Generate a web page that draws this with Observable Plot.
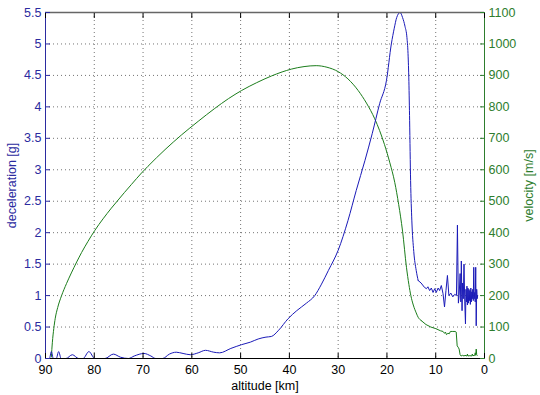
<!DOCTYPE html>
<html><head><meta charset="utf-8">
<script src="https://cdn.jsdelivr.net/npm/d3@7"></script>
<script src="https://cdn.jsdelivr.net/npm/@observablehq/plot@0.6"></script>
<style>
html,body{margin:0;padding:0;background:#fff;}
#chart svg{display:block;}
</style></head><body><div id="chart"></div>
<script>
// deceleration [g] vs altitude [km]
const decelAlt = [89.8,89.2,88.8,88.4,87.8,87.3,86.8,85.8,84.5,83.2,82.3,81.1,79.9,77.8,76.1,74.6,73.0,71.8,69.8,68.4,67.4,66.0,64.6,63.2,61.8,60.3,58.7,57.2,55.5,54.3,52.0,49.8,48.0,46.4,44.8,43.7,42.2,40.3,38.5,36.5,34.8,33.5,32.0,30.0,28.0,26.3,24.5,23.0,21.5,20.1,19.1,18.5,18.0,17.3,16.8,16.3,15.9,15.68,15.5,15.35,15.15,14.9,14.5,14.0,13.6,
  13.0,12.3,11.9,11.6,11.25,10.9,10.55,10.2,9.9,9.5,9.2,8.85,8.5,8.2,7.9,7.6,7.3,6.9,6.5,6.1,5.75,5.55,5.35,5.2,5.0,4.85,4.75,4.6,4.5,4.35,4.2,4.05,3.9,3.8,3.7,3.6,3.5,3.4,3.3,3.2,3.1,3.0,2.9,2.8,2.7,2.6,2.5,2.4,2.3,2.2,2.1,2.0,1.9,1.8,1.7,1.6,1.5,1.4];
const decelG = [0,0,0.11,0,0,0.11,0,0,0.06,0,0,0.11,0,0,0.07,0.02,0,0.04,0.08,0.04,0,0,0.07,0.1,0.08,0.06,0.09,0.13,0.1,0.09,0.16,0.22,0.26,0.31,0.34,0.35,0.45,0.63,0.76,0.88,1.0,1.17,1.4,1.72,2.19,2.67,3.15,3.58,4.05,4.42,5.0,5.25,5.42,5.5,5.42,5.28,5.1,4.85,4.4,3.78,2.83,2.2,1.7,1.4,1.24,
  1.2,1.13,1.11,1.14,1.08,1.12,1.05,1.11,1.05,1.12,1.08,1.16,1.03,0.82,1.08,1.32,1.0,1.04,0.98,1.02,1.0,2.12,0.88,1.0,1.35,0.9,1.55,0.76,1.2,0.95,1.5,0.9,0.55,1.1,0.9,1.15,0.85,1.12,0.88,1.1,0.92,1.08,0.86,1.12,0.9,1.06,0.95,1.1,0.92,1.45,0.95,1.05,0.9,1.45,0.52,1.1,0.95,1.0];

// velocity [m/s] vs altitude [km]
const velAlt = [88.8,88.6,88.3,88.0,87.5,86.7,85.7,84.7,83.6,82.6,81.3,79.9,78.2,76.5,75.1,73.8,72.4,70.3,69.0,65.5,62.1,58.7,55.3,52.5,49.8,46.7,43.7,41.5,39.6,37.0,34.5,32.3,30.0,28.0,25.9,24.2,22.5,20.5,19.4,18.4,17.6,16.8,16.0,15.5,15.1,14.6,14.0,13.6,13.0,
  12.0,11.0,10.0,9.0,8.5,8.2,8.0,7.8,7.5,7.2,7.0,6.5,6.0,5.8,5.6,5.4,5.2,5.0,4.8,4.5,4.2,4.0,3.6,3.5,3.4,3.0,2.6,2.5,2.4,2.0,1.9,1.8,1.7,1.6,1.5];
const velMS = [5,50,95,128,162,200,238,272,307,337,372,407,444,478,504,528,553,590,611,664,711,754,795,826,852,877,898,911,920,928,931,926,912,889,852,812,762,680,622,560,490,405,290,235,200,170,145,131,121,
  108,100,95,88,86,80,84,76,80,79,86,86,86,84,40,36,30,12,8,10,8,10,8,14,8,9,8,14,9,10,18,10,30,12,10];

const altTicks = [90,80,70,60,50,40,30,20,10,0];
const gTicks = [0,0.5,1,1.5,2,2.5,3,3.5,4,4.5,5,5.5];
const vTicks = [0,100,200,300,400,500,600,700,800,900,1000,1100];
const V_PER_G = 200; // right axis 0–1100 m/s aligned with left axis 0–5.5 g

const decel = decelAlt.map((a, i) => ({alt: a, g: decelG[i]}));
const vel = velAlt.map((a, i) => ({alt: a, v: velMS[i]}));

const BLUE = "#1a1ab8", BLUE_T = "#2b2ba0", GREEN = "#1b7d1b", GREEN_T = "#2e7d2e";
const FONT = "'Liberation Sans', Arial, Helvetica, sans-serif";

const chart = Plot.plot({
  width: 540, height: 395,
  marginLeft: 45, marginRight: 56, marginTop: 12, marginBottom: 37,
  style: {fontFamily: FONT, fontSize: "12.5px", background: "#fff", overflow: "visible"},
  x: {domain: [90, 0]},
  y: {domain: [0, 5.5]},
  marks: [
    Plot.gridX(altTicks, {stroke: "#000", strokeOpacity: 0.55, strokeDasharray: "1,3"}),
    Plot.gridY(gTicks, {stroke: "#000", strokeOpacity: 0.55, strokeDasharray: "1,3"}),
    Plot.line(vel, {filter: d => d.alt >= 13, x: "alt", y: d => d.v / V_PER_G, stroke: GREEN, strokeWidth: 1, curve: "monotone-x"}),
    Plot.line(vel, {filter: d => d.alt <= 13, x: "alt", y: d => d.v / V_PER_G, stroke: GREEN, strokeWidth: 1}),
    Plot.line(decel, {filter: d => d.alt >= 13.6, x: "alt", y: "g", stroke: BLUE, strokeWidth: 1, curve: "monotone-x"}),
    Plot.line(decel, {filter: d => d.alt <= 13.6, x: "alt", y: "g", stroke: BLUE, strokeWidth: 1}),
    Plot.ruleY([5.5], {stroke: "#666", strokeWidth: 1.5}),
    Plot.ruleY([0], {stroke: "#000"}),
    Plot.ruleX([90], {stroke: BLUE_T}),
    Plot.ruleX([0], {stroke: GREEN_T}),
    Plot.axisX(altTicks, {anchor: "top", tickSize: -5, tickFormat: () => "", label: null, color: "#000"}),
    Plot.axisX(altTicks, {anchor: "bottom", tickSize: -5, tickPadding: 12, tickFormat: d => String(d), label: "altitude [km]", labelAnchor: "center", labelOffset: 31, labelArrow: "none", color: "#000"}),
    Plot.axisY(gTicks, {anchor: "left", tickSize: -5, tickPadding: 9, tickFormat: d => String(d), label: "deceleration [g]", labelAnchor: "center", labelOffset: 38, labelArrow: "none", color: BLUE_T}),
    Plot.axisY(vTicks.map(v => v / V_PER_G), {anchor: "right", tickSize: -5, tickPadding: 9, tickFormat: d => String(Math.round(d * V_PER_G)), label: "velocity [m/s]", labelAnchor: "center", labelOffset: 48, labelArrow: "none", color: GREEN_T})
  ]
});
document.getElementById("chart").appendChild(chart);
</script>
</body></html>
